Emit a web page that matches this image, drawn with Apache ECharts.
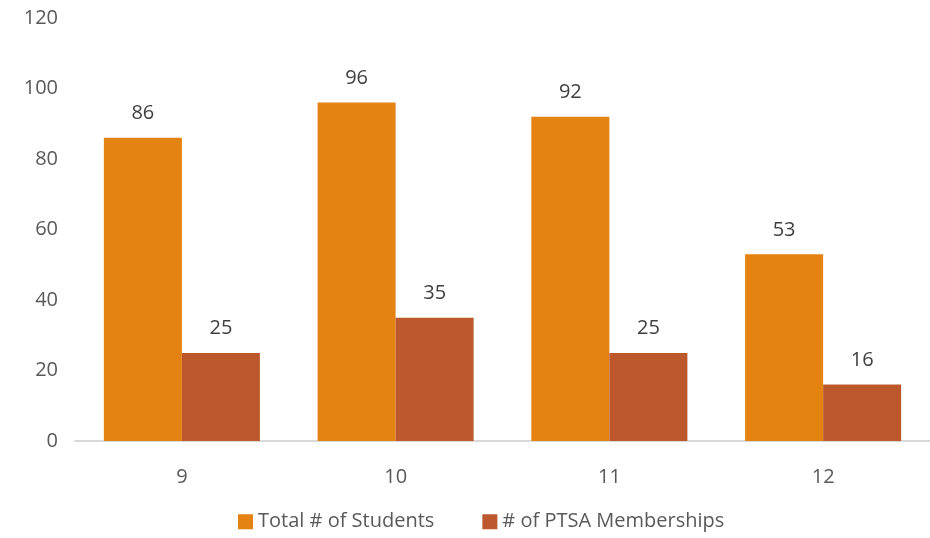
<!doctype html>
<html>
<head>
<script src="https://cdn.jsdelivr.net/npm/echarts@6/dist/echarts.min.js"></script>
<style>
  html, body { margin: 0; padding: 0; background: #fff; }
  #chart { width: 930px; height: 538px; }
</style>
</head>
<body>
<div id="chart"></div>
<script>
  var grades = ['9', '10', '11', '12'];
  var totalStudents = [86, 96, 92, 53];
  var ptsaMemberships = [25, 35, 25, 16];

  var textColor = '#595959';
  var font = 'Open Sans';

  var myChart = echarts.init(document.getElementById('chart'));
  myChart.setOption({
    animation: false,
    textStyle: { fontFamily: font },
    grid: { left: 75, right: 0, top: 18, bottom: 97, containLabel: false },
    legend: {
      bottom: 0,
      left: 238,
      padding: 0,
      itemWidth: 15,
      itemHeight: 15,
      itemGap: 48,
      icon: 'rect',
      textStyle: { color: textColor, fontSize: 20, fontFamily: font },
      data: ['Total # of Students', '# of PTSA Memberships']
    },
    xAxis: {
      type: 'category',
      data: grades,
      axisLine: { lineStyle: { color: '#d9d9d9', width: 2 } },
      axisTick: { show: false },
      axisLabel: { color: textColor, fontSize: 20, margin: 20 }
    },
    yAxis: {
      type: 'value',
      min: 0,
      max: 120,
      interval: 20,
      splitLine: { show: false },
      axisLine: { show: false },
      axisLabel: { color: textColor, fontSize: 20, margin: 17 }
    },
    series: [
      {
        name: 'Total # of Students',
        type: 'bar',
        data: totalStudents,
        barGap: '0%',
        barCategoryGap: '27%',
        itemStyle: { color: '#E48312' },
        label: { show: true, position: 'top', distance: 8, color: '#404040', fontSize: 20 }
      },
      {
        name: '# of PTSA Memberships',
        type: 'bar',
        data: ptsaMemberships,
        itemStyle: { color: '#BD582C' },
        label: { show: true, position: 'top', distance: 8, color: '#404040', fontSize: 20 }
      }
    ]
  });
</script>
</body>
</html>
